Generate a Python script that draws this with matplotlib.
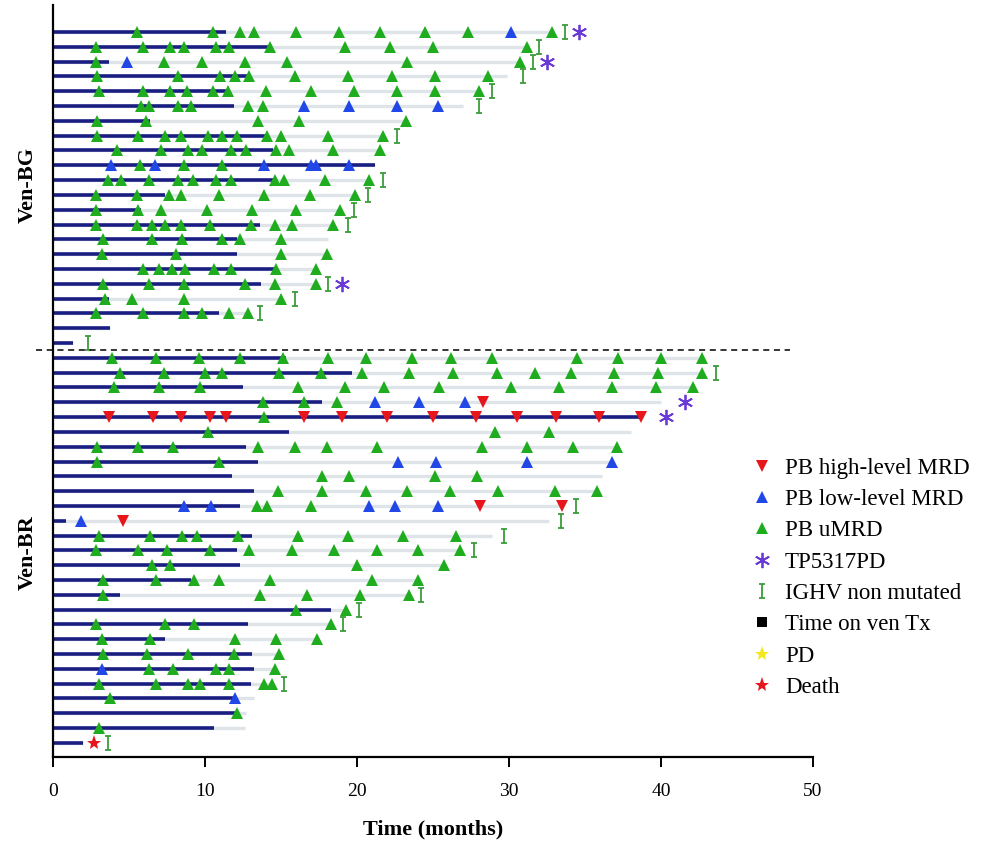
import matplotlib
matplotlib.use("Agg")
import matplotlib.pyplot as plt
from matplotlib.lines import Line2D
from matplotlib.path import Path

plt.rcParams['font.family'] = ['Liberation Serif', 'DejaVu Serif']

# ---- Ven-BG arm (22 patients, top to bottom) ----
bg_tx_end = [11.4, 14.3, 3.7, 13.0, 11.4, 11.9, 6.4, 14.1, 14.5, 21.2, 14.6,
             7.4, 5.8, 13.6, 12.1, 12.1, 14.6, 13.7, 3.7, 10.9, 3.75, 1.3]
bg_fu_end = [32.8, 31.2, 30.7, 29.9, 28.0, 27.0, 23.2, 21.7, 21.5, 21.2, 20.8,
             19.9, 18.9, 18.4, 18.1, 18.0, 17.3, 17.3, 15.0, 12.8, 3.75, 1.3]
bg_umrd = [
    [5.5, 10.5, 12.3, 13.2, 16.0, 18.8, 21.5, 24.5, 27.3, 32.8],
    [2.8, 5.9, 7.7, 8.6, 10.7, 11.6, 14.3, 19.2, 22.2, 25.0, 31.2],
    [2.8, 7.3, 9.8, 12.6, 15.4, 23.3, 30.7],
    [2.9, 8.2, 11.0, 12.0, 12.9, 15.9, 19.4, 22.3, 25.1, 28.6],
    [3.0, 5.9, 7.7, 8.8, 10.5, 11.5, 14.0, 17.0, 19.8, 22.6, 25.1, 28.0],
    [5.8, 6.3, 8.2, 9.1, 12.8, 13.8],
    [2.9, 6.1, 13.5, 16.2, 23.2],
    [2.9, 5.6, 7.4, 8.4, 10.2, 11.1, 12.1, 14.1, 15.0, 18.1, 21.7],
    [4.2, 7.1, 8.9, 9.8, 11.7, 12.7, 14.7, 15.5, 18.4, 21.5],
    [5.7, 8.6, 11.1],
    [3.6, 4.5, 6.3, 8.2, 9.2, 10.7, 11.7, 14.6, 15.2, 17.9, 20.8],
    [2.8, 5.5, 7.6, 8.4, 10.9, 13.9, 16.9, 19.9],
    [2.8, 5.6, 7.1, 10.1, 13.1, 16.0, 18.9],
    [2.8, 5.5, 6.5, 7.4, 8.4, 10.3, 13.0, 14.6, 15.7, 18.4],
    [3.3, 6.5, 8.5, 11.1, 12.3, 15.0],
    [3.2, 8.1, 15.0, 18.0],
    [5.9, 7.0, 7.8, 8.7, 10.6, 11.7, 14.7, 17.3],
    [3.3, 6.3, 8.6, 12.6, 14.6, 17.3],
    [3.4, 5.2, 8.6, 15.0],
    [2.8, 5.9, 8.6, 9.8, 11.6, 12.8],
    [],
    [],
]
bg_low = {0: [30.1], 2: [4.9], 5: [16.5, 19.5, 22.6, 25.3],
          9: [3.8, 6.7, 13.9, 17.0, 17.3, 19.5]}
bg_high = {}
bg_tp53 = {0: 34.6, 2: 32.5, 17: 19.0}
bg_ighv = {0: 33.7, 1: 32.0, 2: 31.6, 3: 30.9, 4: 28.9, 5: 28.0, 7: 22.6,
           10: 21.7, 11: 20.7, 12: 19.8, 13: 19.4, 17: 18.1, 18: 15.9,
           19: 13.6, 21: 2.3}
bg_death = {}

# ---- Ven-BR arm (27 patients, top to bottom) ----
br_tx_end = [15.3, 19.65, 12.5, 17.7, 38.7, 15.5, 12.7, 13.5, 11.8, 13.2, 12.3,
             0.86, 13.1, 12.1, 12.3, 9.1, 4.4, 18.3, 12.8, 7.4, 13.1, 13.2,
             13.0, 12.1, 12.1, 10.6, 1.95]
br_fu_end = [42.7, 42.7, 42.1, 40.0, 38.7, 38.0, 37.1, 36.8, 36.1, 35.8, 33.5,
             32.6, 28.9, 26.8, 25.7, 24.0, 23.4, 19.3, 18.3, 17.4, 14.9, 14.6,
             14.4, 13.2, 12.7, 12.6, 1.95]
br_umrd = [
    [3.9, 6.8, 9.6, 12.3, 15.1, 18.1, 20.6, 23.6, 26.2, 28.9, 34.5, 37.2, 40.0, 42.7],
    [4.4, 7.3, 10.0, 11.1, 14.9, 17.6, 20.3, 23.4, 26.3, 29.2, 31.7, 34.1, 36.9, 39.8, 42.7],
    [4.0, 7.0, 9.7, 16.1, 19.2, 21.8, 25.4, 30.1, 33.3, 36.8, 39.7, 42.1],
    [13.8, 16.5, 18.7],
    [13.9],
    [10.2, 29.1, 32.6],
    [2.9, 5.6, 7.9, 13.5, 15.9, 18.0, 21.3, 28.2, 31.2, 34.2, 37.1],
    [2.9, 10.9],
    [17.7, 19.5, 25.1, 27.9],
    [14.8, 17.7, 20.6, 23.3, 26.1, 29.3, 33.0, 35.8],
    [13.4, 14.1, 17.0],
    [],
    [3.0, 6.4, 8.5, 9.5, 12.2, 16.1, 19.4, 23.0, 26.5],
    [2.8, 5.6, 7.5, 10.3, 12.9, 15.7, 18.5, 21.3, 24.0, 26.8],
    [6.5, 7.7, 20.0, 25.7],
    [3.3, 6.8, 9.3, 10.9, 14.3, 21.0, 24.0],
    [3.3, 13.6, 16.7, 20.2, 23.4],
    [16.0, 19.3],
    [2.8, 7.4, 9.3, 18.3],
    [3.2, 6.4, 12.0, 14.7, 17.4],
    [3.3, 6.2, 8.9, 11.9, 14.9],
    [6.3, 7.9, 10.7, 11.6, 14.6],
    [3.0, 6.8, 8.9, 9.7, 11.6, 13.9, 14.4],
    [3.75],
    [12.1],
    [3.0],
    [],
]
br_low = {3: [21.2, 24.1, 27.1], 7: [22.7, 25.2, 31.2, 36.8],
          10: [8.6, 10.4, 20.8, 22.5, 25.3], 11: [1.84], 21: [3.2], 23: [12.0]}
br_high = {3: [28.3],
           4: [3.7, 6.6, 8.4, 10.3, 11.4, 16.5, 19.0, 22.0, 25.0, 27.8, 30.5,
               33.1, 35.9, 38.7],
           10: [28.1, 33.5], 11: [4.6]}
br_tp53 = {3: 41.6, 4: 40.3}
br_ighv = {1: 43.6, 10: 34.4, 11: 33.4, 12: 29.7, 13: 27.7, 16: 24.2, 17: 20.1,
           18: 19.1, 22: 15.2, 26: 3.6}
br_death = {26: 2.7}

legend_labels = ['PB high-level MRD', 'PB low-level MRD', 'PB uMRD', 'TP5317PD',
                 'IGHV non mutated', 'Time on ven Tx', 'PD', 'Death']

C_BAR = '#1a1e82'
C_FU = '#dfe4e8'
C_GREEN = '#1fad1f'
C_BLUE = '#2147e6'
C_RED = '#e6161c'
C_PURPLE = '#6a3ad6'
C_IGHV = '#3c9c3c'

ibeam = Path([(-0.5, 1), (0.5, 1), (0, 1), (0, -1), (-0.5, -1), (0.5, -1)],
             [Path.MOVETO, Path.LINETO, Path.MOVETO, Path.LINETO, Path.MOVETO, Path.LINETO])

fig = plt.figure(figsize=(9.84, 8.41), dpi=100)
ax = fig.add_axes([53 / 984, 1 - 757 / 841, 760 / 984, 752 / 841])


def draw_arm(offset, tx_end, fu_end, umrd, low, high, tp53, ighv, death):
    rows = [offset + i for i in range(len(tx_end))]
    ax.hlines(rows, 0, fu_end, color=C_FU, lw=2.4, zorder=1)
    ax.hlines(rows, 0, tx_end, color=C_BAR, lw=2.6, zorder=2)
    for i, xs in enumerate(umrd):
        ax.plot(xs, [offset + i] * len(xs), '^', color=C_GREEN, ms=8, mew=0, zorder=3)
    for i, xs in low.items():
        ax.plot(xs, [offset + i] * len(xs), '^', color=C_BLUE, ms=8, mew=0, zorder=3)
    for i, xs in high.items():
        ax.plot(xs, [offset + i] * len(xs), 'v', color=C_RED, ms=8, mew=0, zorder=3)
    for i, x in tp53.items():
        ax.plot([x], [offset + i], marker=(6, 2, 0), color=C_PURPLE, ms=11, mew=1.3,
                ls='none', zorder=3)
    for i, x in ighv.items():
        ax.plot([x], [offset + i], marker=ibeam, color=C_IGHV, ms=10, mew=1.3,
                mfc='none', ls='none', zorder=3)
    for i, x in death.items():
        ax.plot([x], [offset + i], '*', color=C_RED, ms=11, mew=0, zorder=3)


draw_arm(0, bg_tx_end, bg_fu_end, bg_umrd, bg_low, bg_high, bg_tp53, bg_ighv, bg_death)
n_bg = len(bg_tx_end)
draw_arm(n_bg, br_tx_end, br_fu_end, br_umrd, br_low, br_high, br_tp53, br_ighv, br_death)
n_all = n_bg + len(br_tx_end)

# separator between arms
ax.plot([-1.1, 48.5], [n_bg - 0.5, n_bg - 0.5], ls=(0, (4, 3)), color='black',
        lw=1.1, clip_on=False, zorder=4)

ax.set_xlim(0, 50)
ax.set_ylim(n_all - 0.05, -1.82)
ax.set_xticks(range(0, 51, 10))
ax.set_yticks([])
for s in ['top', 'right']:
    ax.spines[s].set_visible(False)
for s in ['left', 'bottom']:
    ax.spines[s].set_linewidth(1.6)
ax.tick_params(axis='x', direction='out', length=7, width=1.4, labelsize=14, pad=12)
ax.set_xlabel('Time (months)', fontsize=16, fontweight='bold', labelpad=14)

fig.text(28 / 984, 1 - 185 / 841, 'Ven-BG', rotation=90, ha='center', va='center',
         fontsize=16, fontweight='bold')
fig.text(28 / 984, 1 - 553 / 841, 'Ven-BR', rotation=90, ha='center', va='center',
         fontsize=16, fontweight='bold')

handles = [
    Line2D([], [], ls='none', marker='v', color=C_RED, ms=8, mew=0),
    Line2D([], [], ls='none', marker='^', color=C_BLUE, ms=8, mew=0),
    Line2D([], [], ls='none', marker='^', color=C_GREEN, ms=8, mew=0),
    Line2D([], [], ls='none', marker=(6, 2, 0), color=C_PURPLE, ms=11, mew=1.3),
    Line2D([], [], ls='none', marker=ibeam, color=C_IGHV, ms=10, mew=1.3, mfc='none'),
    Line2D([], [], ls='none', marker='s', color='black', ms=7, mew=0),
    Line2D([], [], ls='none', marker='*', color='#f4e81c', ms=11, mew=0),
    Line2D([], [], ls='none', marker='*', color=C_RED, ms=11, mew=0),
]
fig.legend(handles, legend_labels, loc='upper left', bbox_to_anchor=(730 / 984, 1 - 437 / 841),
           frameon=False, fontsize=16.5, labelspacing=0.45, handletextpad=0.5,
           handlelength=1.0)

fig.savefig('out.png', dpi=100)
